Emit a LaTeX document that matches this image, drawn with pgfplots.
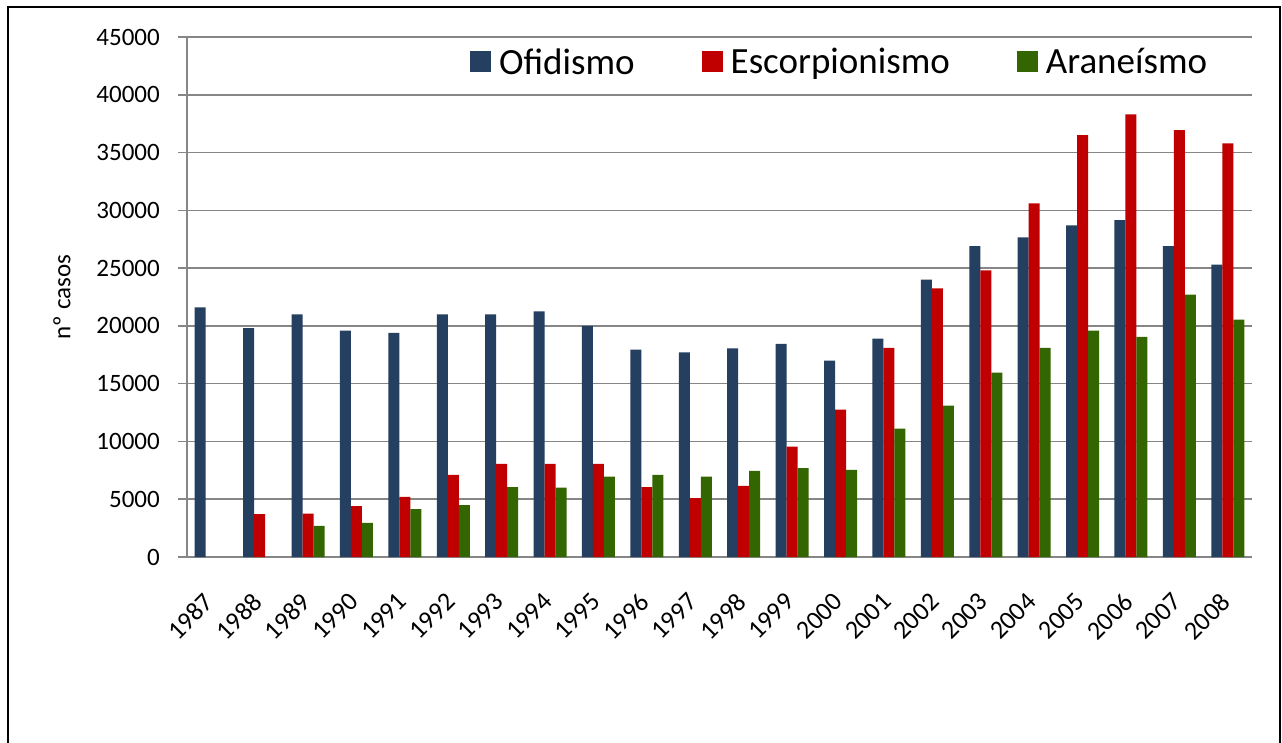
\documentclass[border=0pt]{standalone}
\usepackage{fontspec}
\setmainfont{Carlito}
\usepackage{pgfplots}
\pgfplotsset{compat=1.18}
\definecolor{cOf}{HTML}{243F60}
\definecolor{cEs}{HTML}{C00000}
\definecolor{cAr}{HTML}{336600}
\definecolor{gridc}{HTML}{868686}
\begin{document}
\begin{tikzpicture}[x=1pt,y=1pt]
\useasboundingbox (0,0) rectangle (1282,742);
\fill[white] (0,0) rectangle (1282,742);
\draw[line width=2pt] (8,-5) -- (8,735) -- (1280,735) -- (1280,-5);
\begin{axis}[
  at={(187pt,185pt)}, anchor=south west,
  scale only axis, width=1065pt, height=520pt,
  xmin=-0.5, xmax=21.5, ymin=0, ymax=45000,
  ybar=0pt, bar width=11pt,
  every axis plot/.append style={draw=none,
    legend image code/.code={\fill[##1] (0pt,-10.5pt) rectangle (21pt,10.5pt);\path (28pt,0pt);}},
  axis lines=left, axis line style={-, draw=gridc, line width=1.6pt},
  ytick={0,5000,...,45000},
  ymajorgrids, grid style={draw=gridc, line width=1.6pt},
  xtick={0,...,21},
  xticklabels={1987,1988,1989,1990,1991,1992,1993,1994,1995,1996,1997,1998,1999,2000,2001,2002,2003,2004,2005,2006,2007,2008},
  xtick style={draw=none},
  ytick style={draw=gridc, line width=1.6pt},
  tick align=outside, major tick length=9pt,
  tick label style={font=\fontsize{25}{30}\selectfont},
  /pgf/number format/assume math mode=true,
  scaled y ticks=false,
  yticklabel style={/pgf/number format/1000 sep={}, inner sep=0pt, xshift=-18pt},
  x tick label style={rotate=45, anchor=north east, inner sep=0pt, yshift=-12pt, xshift=-24pt, font=\fontsize{26}{30}\selectfont},
  ylabel={nº casos},
  every axis y label/.style={at={(axis description cs:-0.1174,0.5)}, rotate=90, anchor=center, font=\fontsize{25}{30}\selectfont},
  legend style={at={(0.2657,0.952)}, anchor=west, draw=none, fill=none, inner sep=0pt,
    font=\fontsize{37}{40}\selectfont, nodes={inner sep=1pt},
    /tikz/every even column/.append style={column sep=66pt}},
  legend columns=3,
]
\addplot[fill=cOf] coordinates {(0,21600)(1,19800)(2,21000)(3,19600)(4,19400)(5,21000)(6,21000)(7,21250)(8,20000)(9,17950)(10,17700)(11,18050)(12,18450)(13,17000)(14,18900)(15,24000)(16,26900)(17,27650)(18,28700)(19,29150)(20,26900)(21,25300)};
\addplot[fill=cEs] coordinates {(1,3700)(2,3750)(3,4400)(4,5200)(5,7100)(6,8050)(7,8050)(8,8050)(9,6050)(10,5100)(11,6150)(12,9550)(13,12750)(14,18100)(15,23250)(16,24800)(17,30600)(18,36500)(19,38300)(20,36950)(21,35800)};
\addplot[fill=cAr] coordinates {(2,2700)(3,2950)(4,4150)(5,4500)(6,6050)(7,6000)(8,6950)(9,7100)(10,6950)(11,7450)(12,7700)(13,7550)(14,11100)(15,13100)(16,15950)(17,18100)(18,19600)(19,19050)(20,22700)(21,20550)};
\legend{Ofidismo,Escorpionismo,Araneísmo}
\end{axis}
\end{tikzpicture}
\end{document}
